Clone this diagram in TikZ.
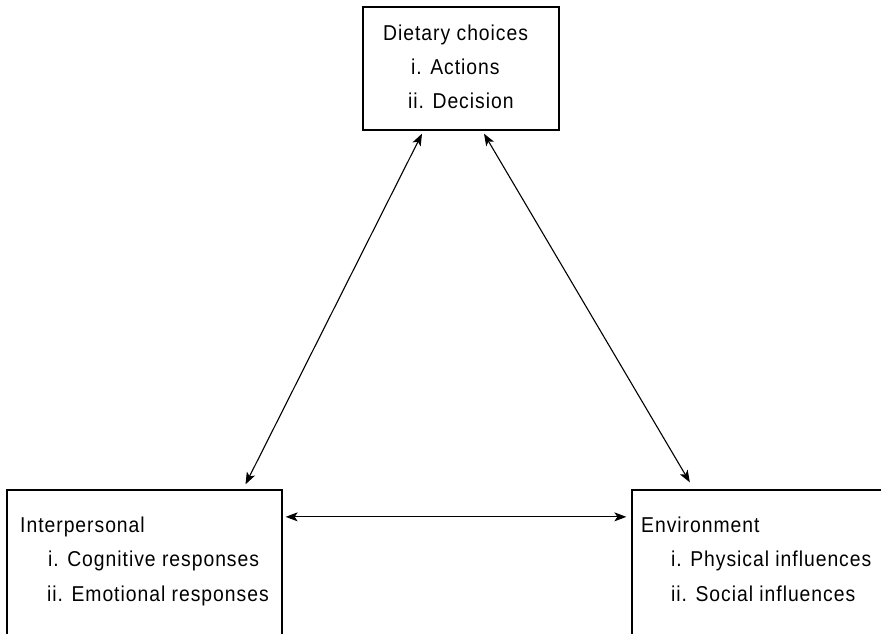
\documentclass[tikz,border=0pt]{standalone}
\usepackage{fontspec}
\setmainfont[FakeStretch=0.9,LetterSpace=4.5,WordSpace=1.0]{Liberation Sans}
\usetikzlibrary{arrows.meta}
\begin{document}
\begin{tikzpicture}[x=1pt,y=-1pt,
  box/.style={draw=black,line width=1.3pt,rectangle,inner sep=0pt},
  label/.style={anchor=base west,inner sep=0pt,font=\fontsize{21.5}{26}\selectfont},
  link/.style={line width=1.1pt,{Stealth[length=12pt,width=9pt,inset=3pt]}-{Stealth[length=12pt,width=9pt,inset=3pt]}}]
\clip (0,0) rectangle (881,633);
\fill[white] (0,0) rectangle (881,633);

% the three boxes
\node[box,minimum width=196pt,minimum height=123pt] (top) at (461,68.5) {};
\node[box,minimum width=275pt,minimum height=170pt] (left) at (144.5,575) {};
\node[box,minimum width=270pt,minimum height=170pt] (right) at (767,575) {};

% texts of the top box
\node[label] (t0) at (383,40) {Dietary choices};
\node[label] (t1) at (411,74) {i. Actions};
\node[label] (t2) at (408,108) {ii. Decision};

% texts of the left box
\node[label] (l0) at (20,532) {Interpersonal};
\node[label] (l1) at (48,566.5) {i. Cognitive responses};
\node[label] (l2) at (47,601) {ii. Emotional responses};

% texts of the right box
\node[label] (r0) at (641,532) {Environment};
\node[label] (r1) at (671,566.5) {i. Physical influences};
\node[label] (r2) at (671,601) {ii. Social influences};

% two-way links
\draw[link] ([xshift=-39pt,yshift=-3pt]top.south) -- ([xshift=101pt,yshift=5pt]left.north);
\draw[link] ([xshift=23pt,yshift=-3pt]top.south) -- ([xshift=58.5pt,yshift=7pt]right.north west);
\draw[link] ([xshift=3pt,yshift=-27.5pt]left.north east) -- ([xshift=-5pt,yshift=-27.5pt]right.north west);
\end{tikzpicture}
\end{document}
